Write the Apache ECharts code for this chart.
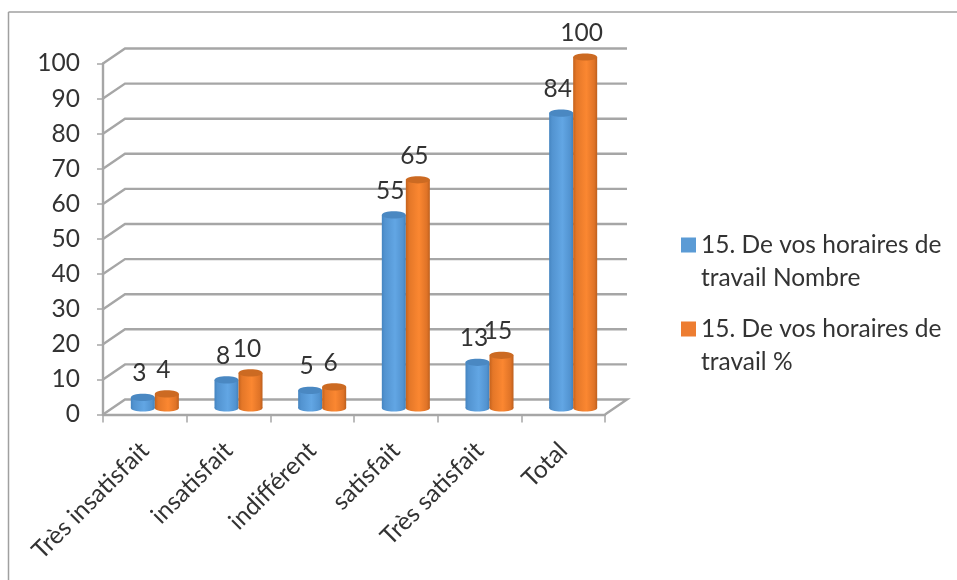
<!DOCTYPE html>
<html>
<head>
<meta charset="utf-8">
<style>html,body{margin:0;padding:0;background:#fff}#chart{width:957px;height:580px}</style>
<script src="https://cdn.jsdelivr.net/npm/echarts@6/dist/echarts.min.js"></script>
</head>
<body>
<div id="chart"></div>
<script>
const categories = ['Très insatisfait', 'insatisfait', 'indifférent', 'satisfait', 'Très satisfait', 'Total'];
const nombre = [3, 8, 5, 55, 13, 84];
const pourcent = [4, 10, 6, 65, 15, 100];
const yTicks = [0, 10, 20, 30, 40, 50, 60, 70, 80, 90, 100];
const nameNombre = '15. De vos horaires de\ntravail Nombre';
const namePourcent = '15. De vos horaires de\ntravail %';

const FONT = 'Lato';
const TEXT = '#333333';
const GRID_LINE = '#a6a6a6';
// Pseudo-3D depth of the box and of the plane the cylinders stand on
const DEPTH_X = 22, DEPTH_Y = 15, BAR_SHIFT_Y = 6.5, BAR_SHIFT_X = 10;

function shaft(stops) {
  return new echarts.graphic.LinearGradient(0, 0, 1, 0, stops.map((c, i) => ({ offset: c[0], color: c[1] })));
}
const blueBody = shaft([[0, '#4484c0'], [0.12, '#5293d0'], [0.55, '#62a6e4'], [0.88, '#5293d0'], [1, '#4281bb']]);
const orangeBody = shaft([[0, '#c4621d'], [0.14, '#e47728'], [0.55, '#fb8731'], [0.88, '#df7327'], [1, '#bd5f1d']]);

// Back wall and floor: each gridline runs along the depth diagonal, then across the wall
function renderWalls(params, api) {
  const value = api.value(0);
  const base = api.coord([0, value]);
  const bandW = api.size([1, 0])[0];
  const left = base[0] - bandW / 2;
  const right = left + bandW * categories.length;
  const y = base[1];
  const style = { stroke: GRID_LINE, lineWidth: 2.4, fill: null };
  const pts = [[left, y], [left + DEPTH_X, y - DEPTH_Y], [right + DEPTH_X, y - DEPTH_Y]];
  if (value === 0) pts.push([right, y]);
  return { type: 'polyline', shape: { points: pts }, style, silent: true };
}

// One cylinder: shaft, base cap, top cap and its value label
function cylinder(column, body, capColor) {
  return function (params, api) {
    const idx = api.value(0);
    const val = api.value(1);
    const top = api.coord([idx, val]);
    const zero = api.coord([idx, 0]);
    const bw = api.size([1, 0])[0] * 0.287;
    const x = top[0] + BAR_SHIFT_X + (column === 0 ? -bw : 0);
    const yTop = top[1] - BAR_SHIFT_Y;
    const yBase = zero[1] - BAR_SHIFT_Y;
    const ry = 3.6;
    return {
      type: 'group',
      children: [
        { type: 'ellipse', shape: { cx: x + bw / 2, cy: yBase, rx: bw / 2, ry }, style: { fill: body } },
        { type: 'rect', shape: { x, y: yTop, width: bw, height: yBase - yTop }, style: { fill: body } },
        { type: 'ellipse', shape: { cx: x + bw / 2, cy: yTop, rx: bw / 2, ry }, style: { fill: capColor } },
        {
          type: 'text',
          style: {
            text: String(val),
            x: x + bw / 2 - 3.5,
            y: yTop - 24,
            align: 'center',
            verticalAlign: 'middle',
            fill: TEXT,
            font: '24.5px ' + FONT
          }
        }
      ]
    };
  };
}

const chart = echarts.init(document.getElementById('chart'), null, { renderer: 'canvas' });
chart.setOption({
  animation: false,
  backgroundColor: '#ffffff',
  textStyle: { fontFamily: FONT },
  grid: { left: 103, top: 63.5, width: 502, height: 351 },
  xAxis: {
    type: 'category',
    data: categories,
    axisLine: { lineStyle: { color: GRID_LINE, width: 2.4 } },
    axisTick: { show: true, length: 8, lineStyle: { color: GRID_LINE, width: 1.5 } },
    axisLabel: { rotate: 45, interval: 0, margin: 32, color: TEXT, fontSize: 24.5, fontFamily: FONT }
  },
  yAxis: {
    type: 'value',
    min: 0,
    max: 100,
    interval: 10,
    splitLine: { show: false },
    axisLine: { show: true, lineStyle: { color: GRID_LINE, width: 2.4 } },
    axisTick: { show: true, length: 6, lineStyle: { color: GRID_LINE, width: 1.5 } },
    axisLabel: { margin: 23, color: TEXT, fontSize: 24.5, fontFamily: FONT, padding: [3, 0, 0, 0] }
  },
  legend: {
    orient: 'vertical',
    left: 676,
    top: 222,
    itemWidth: 15,
    itemHeight: 48,
    itemGap: 15,
    data: [
      { name: nameNombre, icon: 'path://M0 0H15V15H0ZM0 48H15V48H0Z', itemStyle: { color: '#5b9bd5' } },
      { name: namePourcent, icon: 'path://M0 0H15V15H0ZM0 48H15V48H0Z', itemStyle: { color: '#ed7d31' } }
    ],
    textStyle: { color: TEXT, fontSize: 24.5, lineHeight: 33, fontFamily: FONT, padding: [3, 0, 0, 0] }
  },
  graphic: [
    // Chart frame: only its top and left edges fall inside the page
    { type: 'line', silent: true, shape: { x1: 8.5, y1: 12, x2: 957, y2: 12 }, style: { stroke: '#a0a0a0', lineWidth: 1.5 } },
    { type: 'line', silent: true, shape: { x1: 8.5, y1: 12, x2: 8.5, y2: 580 }, style: { stroke: '#a0a0a0', lineWidth: 1.5 } }
  ],
  series: [
    {
      type: 'custom', name: 'walls', z: 1, silent: true, renderItem: renderWalls,
      coordinateSystem: 'cartesian2d', encode: { y: 0 },
      data: yTicks.map(v => [v])
    },
    {
      type: 'custom', name: nameNombre, z: 3, renderItem: cylinder(0, blueBody, '#4a88c2'),
      encode: { x: 0, y: 1 },
      data: nombre.map((v, i) => [i, v])
    },
    {
      type: 'custom', name: namePourcent, z: 4, renderItem: cylinder(1, orangeBody, '#cc6a22'),
      encode: { x: 0, y: 1 },
      data: pourcent.map((v, i) => [i, v])
    }
  ]
});
</script>
</body>
</html>
